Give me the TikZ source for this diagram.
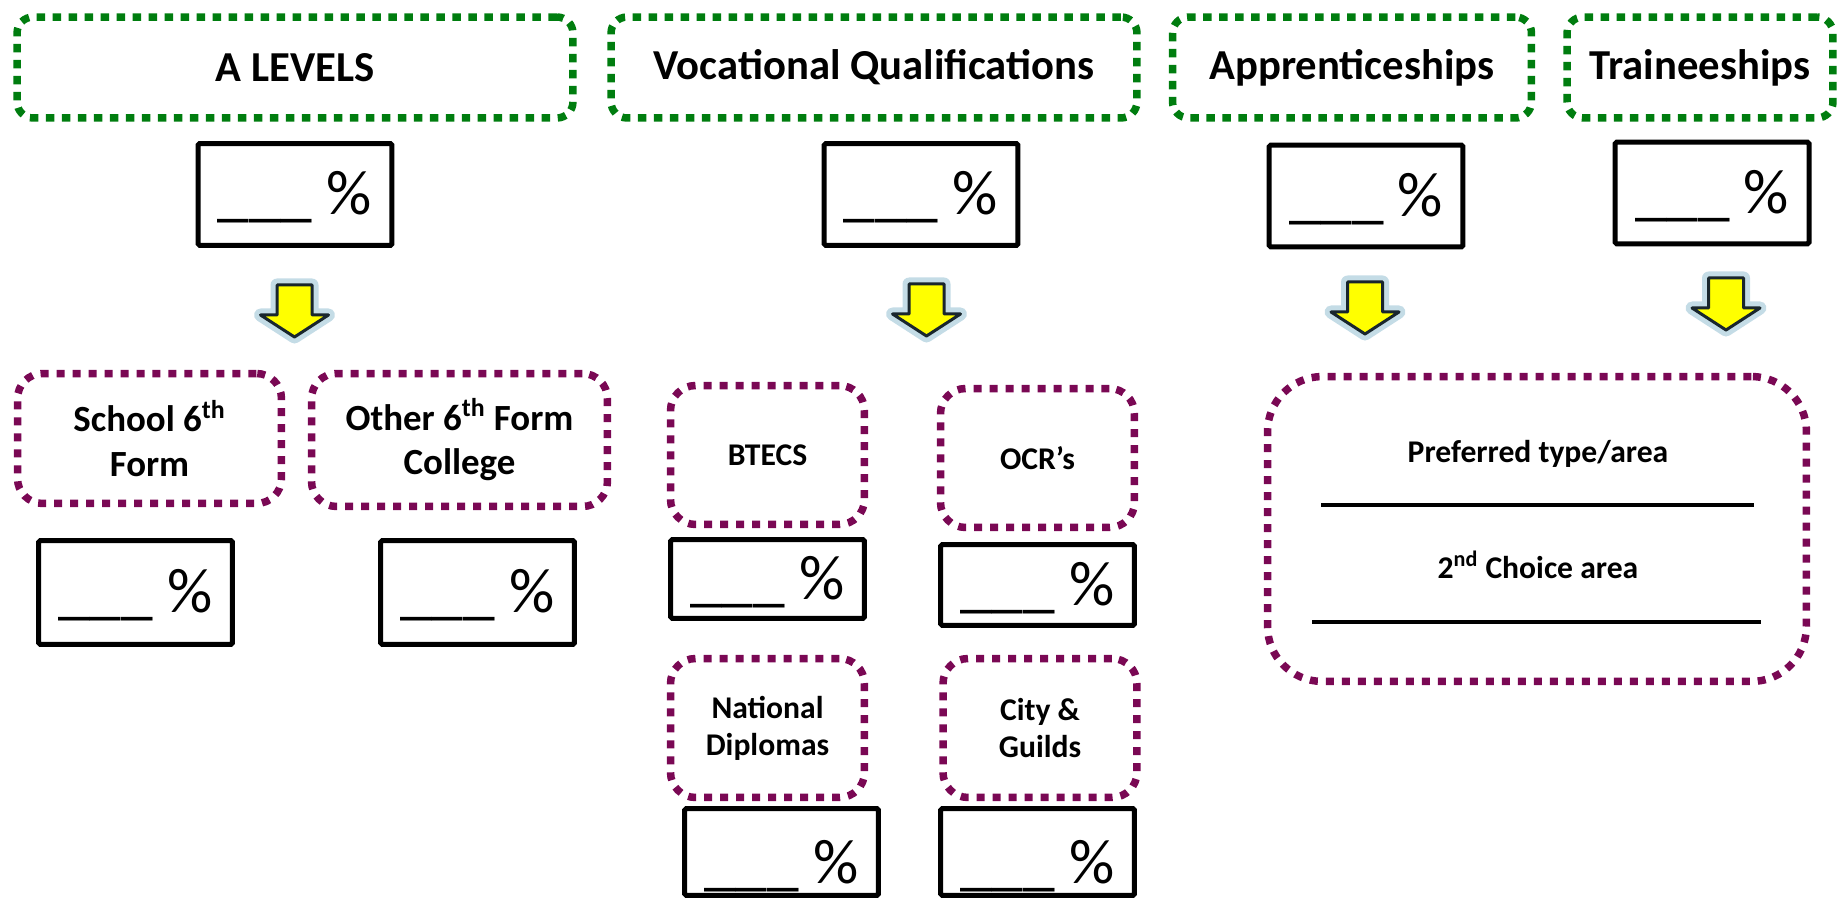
\documentclass[tikz,border=0pt]{standalone}
\usepackage{fontspec}
\setmainfont{Carlito}
\usetikzlibrary{positioning}
\definecolor{hdrgreen}{RGB}{0,125,15}
\definecolor{optpurple}{RGB}{122,8,84}
\definecolor{glowblue}{RGB}{196,220,230}
\definecolor{arrowline}{RGB}{25,38,45}
\definecolor{arrowyellow}{RGB}{255,255,0}

\begin{document}
\begin{tikzpicture}[
	x=0.02cm,y=-0.02cm,
	header/.style={draw=hdrgreen,line width=0.15cm,dash pattern=on 0.17cm off 0.15cm,rounded corners=0.32cm,minimum height=2.02cm,font=\fontsize{24.3}{29}\selectfont\bfseries},
	option/.style={draw=optpurple,line width=0.15cm,dash pattern=on 0.16cm off 0.16cm,rounded corners=0.5cm,align=center,minimum width=3.88cm,font=\fontsize{18}{21}\selectfont\bfseries},
	bigoption/.style={option,font=\fontsize{21}{25.5}\selectfont\bfseries},
	pct/.style={draw,line width=0.1cm,rounded corners=1pt,minimum width=3.88cm,text height=0.82cm,text depth=0pt,font=\fontsize{36}{40}\selectfont},
	blank/.style={line width=0.07cm},
	downarrow/.pic={
		\path[draw=arrowline,line width=0.06cm,line join=round,fill=arrowyellow,preaction={draw=glowblue,line width=0.26cm,line join=round}]
			(-17.5,-52) -- (17.5,-52) -- (17.5,-22) -- (34,-22) -- (0,0) -- (-34,-22) -- (-17.5,-22) -- cycle;
	}
	]
	\path[use as bounding box] (0,0) rectangle (1843,898);
	\clip (0,0) rectangle (1843,898);

	% the headers
	\node[header,minimum width=11.12cm] (alevels) at (295,67.5) {A LEVELS};
	\node[header,minimum width=10.52cm] (vocational) at (874,67.5) {Vocational Qualifications};
	\node[header,minimum width=7.18cm] (apprentice) at (1352,67.5) {Apprenticeships};
	\node[header,minimum width=5.32cm] (trainee) at (1700,67.5) {Traineeships};

	% the percentages under the headers
	\node[pct,minimum height=2.04cm] (pctalevels) at (295,194.5) {\_\_\_ \%};
	\node[pct,minimum height=2.04cm] (pctvocational) at (921,194.5) {\_\_\_ \%};
	\node[pct,minimum height=2.04cm] (pctapprentice) at (1366,196) {\_\_\_ \%};
	\node[pct,minimum height=2.04cm] (pcttrainee) at (1712,193) {\_\_\_ \%};

	% the arrows
	\pic (arrowalevels) at (294.5,337) {downarrow};
	\pic (arrowvocational) at (926.5,336) {downarrow};
	\pic (arrowapprentice) at (1365,334) {downarrow};
	\pic (arrowtrainee) at (1726,330) {downarrow};

	% A levels options
	\node[bigoption,minimum width=5.28cm,minimum height=2.6cm] (school) at (149.5,438.5) {School 6\textsuperscript{th}\\Form};
	\node[bigoption,minimum width=5.92cm,minimum height=2.66cm] (other) at (459.5,440) {Other 6\textsuperscript{th} Form\\College};
	\node[pct,minimum height=2.08cm] (pctschool) at (135.5,592.5) {\_\_\_ \%};
	\node[pct,minimum height=2.08cm] (pctother) at (477.5,592.5) {\_\_\_ \%};

	% vocational options
	\node[option,minimum height=2.78cm] (btecs) at (767.5,455) {BTECS};
	\node[option,minimum height=2.78cm] (ocr) at (1037.5,458) {OCR’s};
	\node[pct,minimum height=1.58cm] (pctbtecs) at (767.5,579) {\_\_\_ \%};
	\node[pct,minimum height=1.62cm] (pctocr) at (1037.5,585) {\_\_\_ \%};
	\node[option,minimum height=2.78cm] (national) at (767.5,728) {National\\Diplomas};
	\node[option,minimum height=2.78cm] (city) at (1040,728) {City \&\\Guilds};
	\node[pct,minimum height=1.74cm,text height=1.26cm] (pctnational) at (781.5,852) {\_\_\_ \%};
	\node[pct,minimum height=1.74cm,text height=1.26cm] (pctcity) at (1037.5,852) {\_\_\_ \%};

	% apprenticeships and traineeships
	\node[option,rounded corners=1.1cm,minimum width=10.78cm,minimum height=6.1cm] (prefbox) at (1537,529) {};
	\node[anchor=base,font=\fontsize{18}{21}\selectfont\bfseries] (preftype) at (1538,462) {Preferred type/area};
	\node[anchor=base,font=\fontsize{18}{21}\selectfont\bfseries] (secondarea) at (1538,578) {2\textsuperscript{nd} Choice area};
	\coordinate (prefstart) at (1321,505);
	\coordinate (prefend) at (1754,505);
	\coordinate (secondstart) at (1312,622);
	\coordinate (secondend) at (1761,622);
	\draw[blank] (prefstart) -- (prefend);
	\draw[blank] (secondstart) -- (secondend);
\end{tikzpicture}
\end{document}
